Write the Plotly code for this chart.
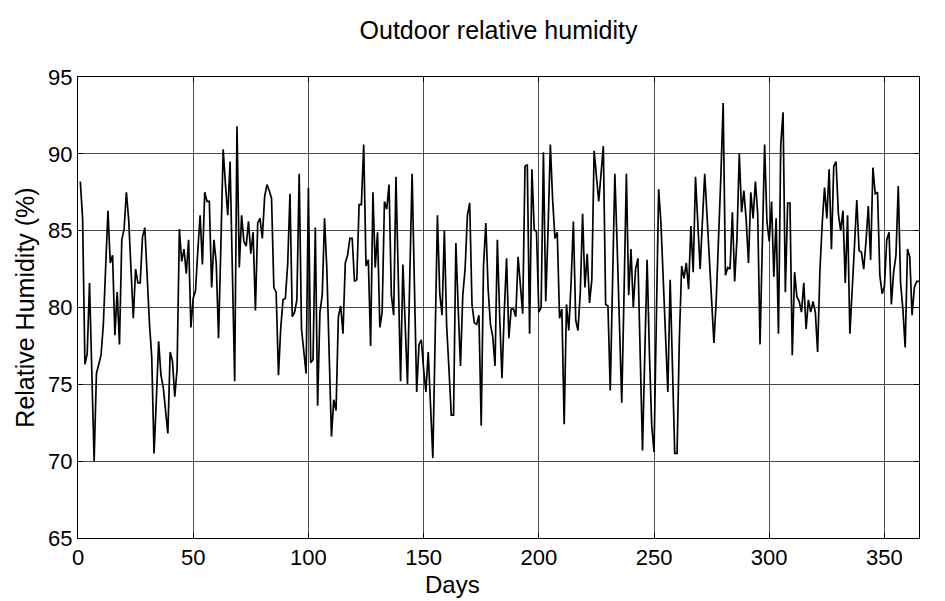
import plotly.graph_objects as go

# Daily outdoor relative humidity (%), day 1 .. 365
humidity = [
    88.2, 85.8, 76.3, 77.0, 81.6, 75.5, 70.0, 75.7, 76.3, 76.9,
    78.9, 82.5, 86.3, 82.9, 83.4, 78.2, 81.0, 77.6, 84.4, 85.1,
    87.5, 85.7, 82.5, 79.3, 82.5, 81.6, 81.6, 84.6, 85.2, 82.0,
    79.0, 76.8, 70.5, 74.0, 77.8, 75.6, 74.8, 73.3, 71.8, 77.1,
    76.5, 74.2, 76.0, 85.1, 83.0, 83.8, 82.2, 84.4, 78.7, 80.6,
    81.1, 83.7, 86.0, 82.8, 87.5, 86.9, 86.9, 81.3, 84.4, 82.9,
    78.0, 84.0, 90.3, 88.0, 86.0, 89.5, 82.0, 75.2, 91.8, 82.6,
    86.0, 84.3, 84.0, 85.6, 83.5, 84.9, 79.8, 85.5, 85.8, 84.5,
    87.2, 88.0, 87.6, 87.1, 81.3, 81.0, 75.6, 78.7, 80.5, 80.6,
    82.8, 87.4, 79.4, 79.7, 80.5, 88.7, 78.6, 77.2, 75.7, 87.8,
    76.4, 76.6, 85.2, 73.6, 79.7, 80.8, 85.8, 82.5, 76.5, 71.6,
    74.0, 73.3, 79.4, 80.1, 78.3, 82.9, 83.4, 84.5, 84.5, 81.7,
    81.8, 86.7, 86.7, 90.6, 82.7, 83.1, 77.5, 87.5, 82.6, 84.9,
    78.7, 79.7, 86.9, 86.4, 88.0, 80.8, 79.5, 88.5, 82.0, 75.2,
    82.8, 79.0, 75.0, 82.0, 88.7, 81.5, 74.5, 77.6, 77.9, 76.0,
    74.5, 77.1, 74.0, 70.2, 78.0, 86.0, 80.9, 79.5, 85.0, 78.8,
    76.0, 73.0, 73.0, 84.2, 80.0, 76.2, 80.8, 82.5, 86.0, 86.8,
    80.2, 79.0, 78.9, 79.5, 72.3, 82.7, 85.5, 81.2, 78.9, 78.1,
    76.2, 84.4, 79.5, 75.4, 79.7, 83.2, 78.0, 79.9, 79.9, 79.4,
    83.3, 81.5, 79.6, 89.2, 89.3, 78.3, 89.0, 85.1, 84.9, 79.7,
    80.0, 90.1, 80.4, 85.0, 90.6, 87.0, 84.5, 84.9, 79.3, 79.9,
    72.4, 80.2, 78.5, 81.6, 85.6, 79.2, 78.5, 81.0, 86.1, 81.3,
    83.5, 80.3, 81.8, 90.2, 88.5, 86.9, 88.7, 90.5, 80.2, 80.1,
    74.6, 82.0, 88.7, 84.0, 78.0, 73.8, 81.0, 88.7, 80.8, 83.8,
    80.0, 82.5, 83.2, 77.0, 70.7, 77.0, 83.1, 77.0, 72.3, 70.6,
    79.0, 87.7, 85.5, 81.6, 77.5, 74.5, 81.8, 76.0, 70.5, 70.5,
    78.0, 82.7, 81.9, 82.9, 81.2, 85.3, 82.3, 88.5, 85.5, 82.5,
    85.6, 88.7, 86.0, 83.0, 80.0, 77.7, 80.5, 84.0, 88.5, 93.3,
    82.1, 82.6, 82.5, 86.2, 81.7, 84.5, 90.0, 86.2, 87.6, 85.7,
    82.9, 87.5, 85.8, 88.2, 86.1, 77.6, 84.0, 90.6, 85.6, 84.3,
    86.9, 82.0, 85.8, 78.3, 90.6, 92.7, 81.0, 86.8, 86.8, 76.9,
    82.3, 80.7, 80.4, 79.7, 81.6, 78.6, 80.5, 79.7, 80.4, 79.7,
    77.1, 82.4, 85.5, 87.8, 85.8, 89.0, 83.8, 89.2, 89.5, 86.1,
    85.0, 86.3, 81.6, 86.0, 78.3, 81.6, 84.0, 87.0, 83.7, 83.6,
    82.5, 84.3, 86.6, 83.1, 89.1, 87.4, 87.5, 82.1, 80.9, 81.4,
    84.4, 84.9, 80.2, 82.3, 83.4, 87.9, 81.6, 79.9, 77.4, 83.8,
    83.3, 79.5, 81.3, 81.7, 81.7,
]
days = list(range(1, len(humidity) + 1))

x_ticks = [0, 50, 100, 150, 200, 250, 300, 350]
y_ticks = [65, 70, 75, 80, 85, 90, 95]

title_text = "Outdoor relative humidity"
x_label = "Days"
y_label = "Relative Humidity (%)"

FONT = "Liberation Sans, Arial, sans-serif"

W, H = 945, 601
L, R, T, B = 78, 26, 77, 63

fig = go.Figure()
fig.add_trace(go.Scatter(
    x=days, y=humidity, mode="lines",
    line=dict(color="black", width=1.7),
    showlegend=False,
))

axis_common = dict(
    showline=True, linecolor="black", linewidth=1,
    mirror="ticks", ticks="inside", ticklen=5, tickcolor="black",
    showgrid=True, gridcolor="#4a4a4a", gridwidth=1,
    zeroline=False,
    tickfont=dict(family=FONT, size=22, color="black"),
)

plot_h = H - T - B

fig.update_layout(
    width=W, height=H,
    paper_bgcolor="white", plot_bgcolor="white",
    margin=dict(l=L, r=R, t=T, b=B, autoexpand=False),
    font=dict(family=FONT, color="black"),
    title=dict(text=title_text, xref="paper", x=0.5, xanchor="center",
               y=1 - 30 / H, yanchor="middle",
               font=dict(family=FONT, size=25, color="black")),
    xaxis=dict(range=[0, 365], tickvals=x_ticks, **axis_common),
    yaxis=dict(range=[65, 95], tickvals=y_ticks,
               title=dict(text=y_label, standoff=6,
                          font=dict(family=FONT, size=25, color="black")),
               **axis_common),
    annotations=[dict(
        text=x_label, xref="paper", yref="paper",
        x=0.445, y=-(584 - (H - B)) / plot_h,
        xanchor="center", yanchor="middle", showarrow=False,
        font=dict(family=FONT, size=24, color="black"),
    )],
)

fig.write_html("out.html")
